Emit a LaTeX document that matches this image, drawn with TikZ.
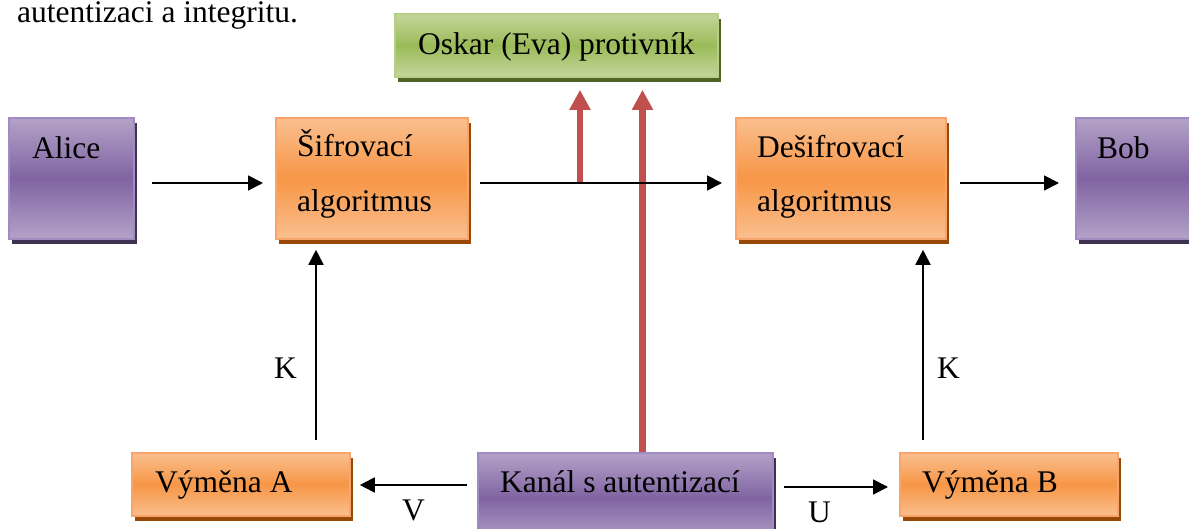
\documentclass[tikz,border=0pt]{standalone}
\usepackage{fontspec}
\setmainfont{Liberation Serif}
\usetikzlibrary{arrows.meta,shadows}

\definecolor{plight}{HTML}{B3A2C8}
\definecolor{pmid}{HTML}{8064A2}
\definecolor{pborder}{HTML}{A08CC2}
\definecolor{pshadow}{HTML}{3F3151}
\definecolor{olight}{HTML}{FABF8F}
\definecolor{omid}{HTML}{F79646}
\definecolor{oborder}{HTML}{F8A46A}
\definecolor{oshadow}{HTML}{984807}
\definecolor{glight}{HTML}{C3D69B}
\definecolor{gmid}{HTML}{9BBB59}
\definecolor{gborder}{HTML}{B6CE86}
\definecolor{gshadow}{HTML}{4F6228}
\definecolor{attackred}{HTML}{C0504D}

\tikzset{
  box/.style={draw, line width=1.8pt, inner sep=0pt, anchor=north west},
  purplebox/.style={box, draw=pborder, top color=plight, bottom color=plight, middle color=pmid,
    drop shadow={shadow xshift=3pt, shadow yshift=-5pt, fill=pshadow, opacity=1}},
  orangebox/.style={box, draw=oborder, top color=olight, bottom color=olight, middle color=omid,
    drop shadow={shadow xshift=3pt, shadow yshift=-5pt, fill=oshadow, opacity=1}},
  greenbox/.style={box, draw=gborder, top color=glight, bottom color=glight, middle color=gmid,
    drop shadow={shadow xshift=3pt, shadow yshift=-5pt, fill=gshadow, opacity=1}},
  lbl/.style={anchor=base west, inner sep=0pt, font=\fontsize{31.5}{38}\selectfont},
  flow/.style={-{Triangle[length=15pt,width=15pt]}, line width=1.8pt},
  attack/.style={-{Triangle[length=20pt,width=20pt]}, line width=6.5pt, draw=attackred},
}

\begin{document}
\begin{tikzpicture}[x=1pt,y=-1pt]
\useasboundingbox (0,0) rectangle (1189,529);
\clip (0,0) rectangle (1189,529);

% boxes
\node[greenbox,  minimum width=323pt, minimum height=63pt]  (oskar)  at (394,13)  {};
\node[purplebox, minimum width=125pt, minimum height=121pt] (alice)  at (8,117)   {};
\node[orangebox, minimum width=192pt, minimum height=121pt] (sifr)   at (275,117) {};
\node[orangebox, minimum width=210pt, minimum height=121pt] (desifr) at (735,117) {};
\node[purplebox, minimum width=125pt, minimum height=121pt] (bob)    at (1075,117) {};
\node[orangebox, minimum width=218pt, minimum height=63pt]  (vymA)   at (131,452) {};
\node[purplebox, minimum width=295pt, minimum height=90pt]  (kanal)  at (477,452) {};
\node[orangebox, minimum width=218pt, minimum height=63pt]  (vymB)   at (899,452) {};

% texts
\node[lbl] (intro)  at (17,23)   {autentizaci a integritu.};
\node[lbl] (oskarT) at (418,55)  {Oskar (Eva) protivník};
\node[lbl] (aliceT) at (32,159)  {Alice};
\node[lbl] (sifrA)  at (297,157) {Šifrovací};
\node[lbl] (sifrB)  at (297,212) {algoritmus};
\node[lbl] (desA)   at (757,158) {Dešifrovací};
\node[lbl] (desB)   at (757,212) {algoritmus};
\node[lbl] (bobT)   at (1097,159) {Bob};
\node[lbl] (kL)     at (274,378) {K};
\node[lbl] (kR)     at (937,378) {K};
\node[lbl] (vymAT)  at (155,492) {Výměna A};
\node[lbl] (kanalT) at (500,492) {Kanál s autentizací};
\node[lbl] (vymBT)  at (922,492) {Výměna B};
\node[lbl] (vT)     at (402,520) {V};
\node[lbl] (uT)     at (808,522) {U};

% helper coordinates
\coordinate (row)   at (0,183);
\coordinate (colL)  at (316,0);
\coordinate (colR)  at (923,0);
\coordinate (rowV)  at (0,485);
\coordinate (rowU)  at (0,487);
\coordinate (tap)   at (580,183);
\coordinate (eve)   at (642.5,0);

% eavesdropping (under the message line)
\draw[attack, shorten >=12pt] (tap) -- (tap |- oskar.south);
\draw[attack, shorten >=12pt] (kanal.north -| eve) -- (oskar.south -| eve);

% message flow
\draw[flow, shorten <=17pt, shorten >=12pt] (alice.east |- row) -- (sifr.west |- row);
\draw[flow, shorten <=11pt, shorten >=13pt] (sifr.east |- row) -- (desifr.west |- row);
\draw[flow, shorten <=13pt, shorten >=16pt] (desifr.east |- row) -- (bob.west |- row);

% key flow
\draw[flow, shorten <=12pt, shorten >=10pt] (vymA.north -| colL) -- (sifr.south -| colL);
\draw[flow, shorten <=12pt, shorten >=10pt] (vymB.north -| colR) -- (desifr.south -| colR);
\draw[flow, shorten <=10pt, shorten >=9pt]  (kanal.west |- rowV) -- (vymA.east |- rowV);
\draw[flow, shorten <=10pt, shorten >=11pt] (kanal.east |- rowU) -- (vymB.west |- rowU);
\end{tikzpicture}
\end{document}
